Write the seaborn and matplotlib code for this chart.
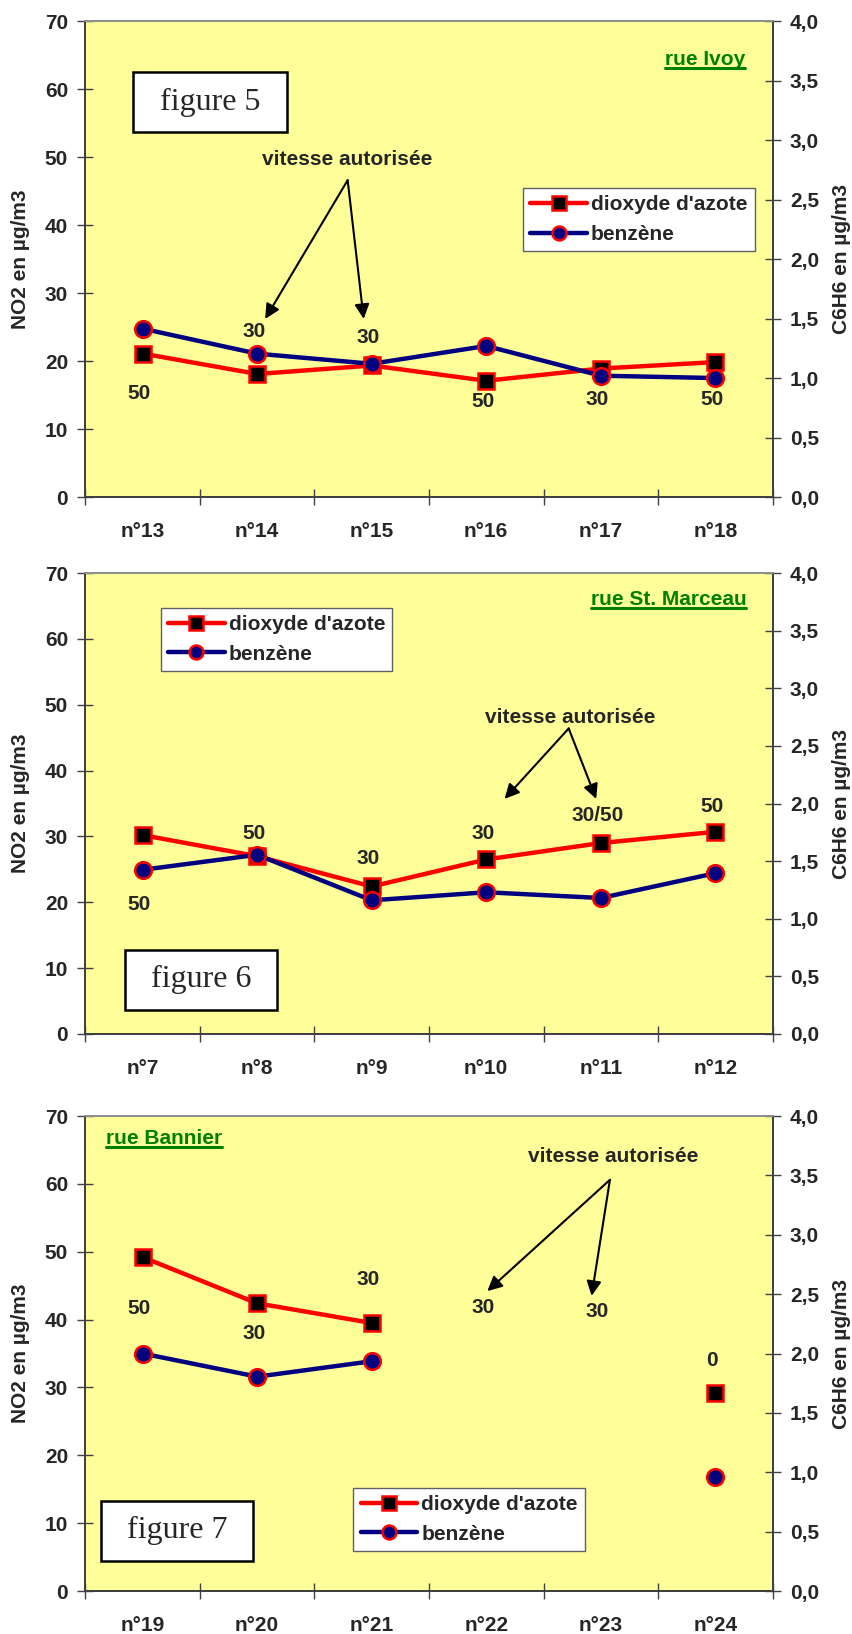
import numpy as np
import pandas as pd
import matplotlib
matplotlib.use("Agg")
import matplotlib.pyplot as plt
import seaborn as sns
from matplotlib.lines import Line2D
from matplotlib.patches import Rectangle

cats_5 = ["n°13", "n°14", "n°15", "n°16", "n°17", "n°18"]
no2_5 = [21.1, 18.1, 19.35, 17.1, 18.9, 19.85]
c6h6_5 = [1.415, 1.205, 1.12, 1.27, 1.02, 1.00]
vitesse_5 = ["50", "30", "30", "50", "30", "50"]

cats_6 = ["n°7", "n°8", "n°9", "n°10", "n°11", "n°12"]
no2_6 = [30.2, 27.0, 22.4, 26.5, 29.0, 30.7]
c6h6_6 = [1.425, 1.555, 1.16, 1.23, 1.18, 1.395]
vitesse_6 = ["50", "50", "30", "30", "30/50", "50"]

cats_7 = ["n°19", "n°20", "n°21", "n°22", "n°23", "n°24"]
no2_7 = [49.2, 42.4, 39.5, np.nan, np.nan, 29.2]
c6h6_7 = [2.0, 1.805, 1.935, np.nan, np.nan, 0.96]
vitesse_7 = ["50", "30", "30", "30", "30", "0"]
segments_7 = ["a", "a", "a", "b", "b", "b"]

## mise en page (positions des annotations) ##
panneaux = [
    dict(cats=cats_5, no2=no2_5, c6h6=c6h6_5, vit=vitesse_5, seg=["a"] * 6,
         rect=[0.1001, 0.6958, 0.8056, 0.2913],
         vit_y=[15.3, 24.3, 23.5, 14.0, 14.3, 14.3],
         titre="figure 5", boite=(0.0697, 0.766, 0.2233, 0.127),
         rue="rue Ivoy", rue_pos=(0.960, 0.920, "right"),
         leg=(0.637, 0.649),
         fl_txt=(2.29, 49.7), fl_orig=(2.29, 46.6), fl_cibles=[(1.57, 26.2), (2.43, 26.2)]),
    dict(cats=cats_6, no2=no2_6, c6h6=c6h6_6, vit=vitesse_6, seg=["a"] * 6,
         rect=[0.1001, 0.3672, 0.8056, 0.2821],
         vit_y=[19.6, 30.4, 26.6, 30.4, 33.2, 34.5],
         titre="figure 6", boite=(0.058, 0.053, 0.2215, 0.130),
         rue="rue St. Marceau", rue_pos=(0.962, 0.942, "right"),
         leg=(0.110, 0.924),
         fl_txt=(4.23, 48.1), fl_orig=(4.22, 46.4), fl_cibles=[(3.66, 35.7), (4.46, 35.7)]),
    dict(cats=cats_7, no2=no2_7, c6h6=c6h6_7, vit=vitesse_7, seg=segments_7,
         rect=[0.1001, 0.0263, 0.8056, 0.2907],
         vit_y=[41.6, 37.9, 45.9, 41.8, 41.25, 33.9],
         titre="figure 7", boite=(0.022, 0.063, 0.222, 0.127),
         rue="rue Bannier", rue_pos=(0.030, 0.952, "left"),
         leg=(0.390, 0.217),
         fl_txt=(4.61, 64.0), fl_orig=(4.58, 60.6), fl_cibles=[(3.51, 44.2), (4.42, 43.5)]),
]

sns.set_style("ticks")
plt.rcParams["font.family"] = ["Liberation Sans", "DejaVu Sans"]
plt.rcParams["font.weight"] = "bold"
plt.rcParams["axes.labelweight"] = "bold"

JAUNE = "#FFFF99"
ROUGE = "#FF0000"
MARINE = "#000080"
VERT = "#008000"
FS = 15

fig = plt.figure(figsize=(8.53, 16.34), dpi=100)
textes_rue = []

for p in panneaux:
    ax = fig.add_axes(p["rect"])
    ax2 = ax.twinx()
    ax.set_facecolor(JAUNE)

    df = pd.DataFrame({"x": np.arange(6) + 0.5, "no2": p["no2"],
                       "c6h6": p["c6h6"], "seg": p["seg"]})

    sns.lineplot(data=df.dropna(), x="x", y="no2", units="seg", estimator=None,
                 ax=ax, color=ROUGE, lw=3.2, marker="s", markersize=12,
                 markerfacecolor="black", markeredgecolor=ROUGE,
                 markeredgewidth=1.8, legend=False, sort=False)
    sns.lineplot(data=df.dropna(), x="x", y="c6h6", units="seg", estimator=None,
                 ax=ax2, color=MARINE, lw=3.2, marker="o", markersize=12,
                 markerfacecolor=MARINE, markeredgecolor=ROUGE,
                 markeredgewidth=1.8, legend=False, sort=False)

    ax.set_xlim(0, 6)
    ax.set_ylim(0, 70)
    ax2.set_ylim(0, 4)
    ax.set_yticks(np.arange(0, 71, 10))
    ax2.set_yticks(np.arange(0, 4.01, 0.5))
    ax2.set_yticklabels([f"{v:.1f}".replace(".", ",") for v in np.arange(0, 4.01, 0.5)])
    ax.set_xticks(np.arange(7))
    ax.set_xticklabels([])
    ax.set_xticks(np.arange(6) + 0.5, minor=True)
    ax.set_xticklabels(p["cats"], minor=True)
    ax.tick_params(axis="x", which="major", direction="inout", length=12, width=1, color="#404040")
    ax.tick_params(axis="x", which="minor", length=0, pad=18, labelsize=FS)
    ax.tick_params(axis="y", direction="inout", length=11, width=1, color="#404040",
                   pad=7, labelsize=FS)
    ax2.tick_params(axis="y", direction="inout", length=11, width=1, color="#404040",
                    pad=7, labelsize=FS)
    ax.set_xlabel("")
    ax.set_ylabel("NO2 en µg/m3", fontsize=FS, fontweight="bold")
    ax2.set_ylabel("C6H6 en µg/m3", fontsize=FS, fontweight="bold")
    ax.yaxis.set_label_coords(-0.081, 0.5)
    ax2.yaxis.set_label_coords(1.087, 0.5)

    for a in (ax, ax2):
        for s in a.spines.values():
            s.set_visible(True)
            s.set_color("#404040")
            s.set_linewidth(1.3)
        a.spines["top"].set_color("#909090")

    # vitesses autorisées
    for i, (txt, yv) in enumerate(zip(p["vit"], p["vit_y"])):
        ax.text(i + 0.47, yv, txt, ha="center", va="center", fontsize=FS, fontweight="bold")

    ax.text(*p["fl_txt"], "vitesse autorisée", ha="center", va="center",
            fontsize=FS, fontweight="bold")
    for cible in p["fl_cibles"]:
        ax.annotate("", xy=cible, xytext=p["fl_orig"],
                    arrowprops=dict(arrowstyle="-|>", color="black", lw=1.5,
                                    mutation_scale=22, shrinkA=0, shrinkB=0))

    # cadre "figure n"
    bx, by, bw, bh = p["boite"]
    ax.add_patch(Rectangle((bx, by), bw, bh, transform=ax.transAxes,
                           facecolor="white", edgecolor="black", lw=1.8, zorder=5))
    ax.text(bx + bw / 2, by + bh / 2, p["titre"], transform=ax.transAxes,
            ha="center", va="center", fontsize=23, fontweight="normal",
            family=["Liberation Serif", "DejaVu Serif"], zorder=6)

    rx, ry, rha = p["rue_pos"]
    t = ax.text(rx, ry, p["rue"], transform=ax.transAxes, ha=rha, va="center",
                color=VERT, fontsize=FS, fontweight="bold")
    textes_rue.append(t)

    handles = [
        Line2D([], [], color=ROUGE, lw=3.2, marker="s", markersize=10,
               markerfacecolor="black", markeredgecolor=ROUGE, markeredgewidth=1.8),
        Line2D([], [], color=MARINE, lw=3.2, marker="o", markersize=10,
               markerfacecolor=MARINE, markeredgecolor=ROUGE, markeredgewidth=1.8),
    ]
    leg = ax2.legend(handles, ["dioxyde d'azote", "benzène"], loc="upper left",
                     bbox_to_anchor=p["leg"], bbox_transform=ax.transAxes,
                     fontsize=FS, frameon=True, fancybox=False, framealpha=1,
                     edgecolor="#606060", handlelength=2.7, handletextpad=0.2,
                     borderpad=0.35, borderaxespad=0, labelspacing=0.5)
    leg.get_frame().set_linewidth(1.0)
    for txt in leg.get_texts():
        txt.set_fontweight("bold")

# soulignement des noms de rue
fig.canvas.draw()
inv = fig.transFigure.inverted()
for t in textes_rue:
    bb = t.get_window_extent()
    (x0, y0), (x1, _) = inv.transform([(bb.x0, bb.y0 + 1), (bb.x1, bb.y0 + 1)])
    fig.add_artist(Line2D([x0, x1], [y0, y0], transform=fig.transFigure,
                          color=VERT, lw=2.2))

plt.savefig("out.png", dpi=100)
